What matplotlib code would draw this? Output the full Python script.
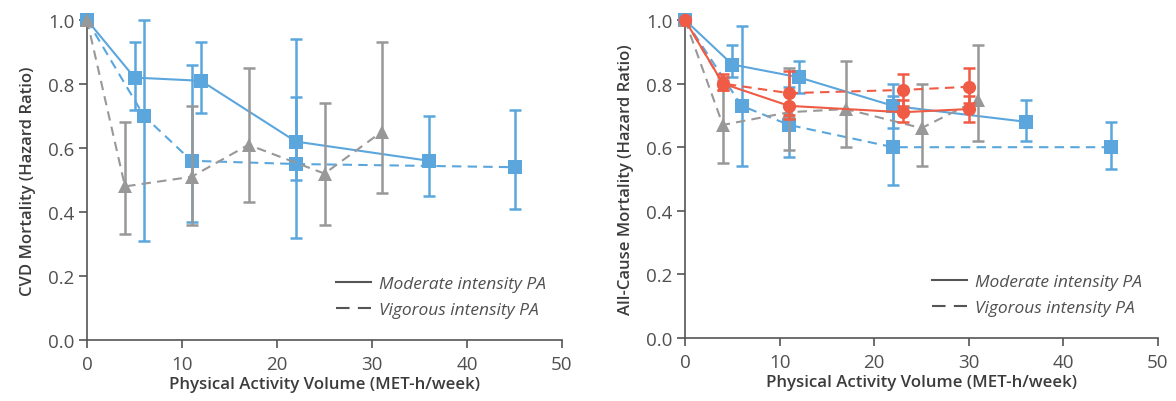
import matplotlib
matplotlib.use("Agg")
import matplotlib.pyplot as plt
from matplotlib.lines import Line2D
import numpy as np

plt.rcParams["font.family"] = ["Open Sans", "DejaVu Sans"]

BLUE = "#5ba6dc"
GRAY = "#989898"
RED = "#ef5b45"
AX = "#555555"
TXT = "#3c3c3c"

# ---- CVD mortality (left) ----
cvd_mod_blue_x = [0, 5, 12, 22, 36]
cvd_mod_blue_y = [1.0, 0.82, 0.81, 0.62, 0.56]
cvd_mod_blue_lo = [np.nan, 0.72, 0.71, 0.50, 0.45]
cvd_mod_blue_hi = [np.nan, 0.93, 0.93, 0.76, 0.70]

cvd_vig_blue_x = [0, 6, 11, 22, 45]
cvd_vig_blue_y = [1.0, 0.70, 0.56, 0.55, 0.54]
cvd_vig_blue_lo = [np.nan, 0.31, 0.37, 0.32, 0.41]
cvd_vig_blue_hi = [np.nan, 1.00, 0.86, 0.94, 0.72]

cvd_vig_gray_x = [0, 4, 11, 17, 25, 31]
cvd_vig_gray_y = [1.0, 0.48, 0.51, 0.61, 0.52, 0.65]
cvd_vig_gray_lo = [np.nan, 0.33, 0.36, 0.43, 0.36, 0.46]
cvd_vig_gray_hi = [np.nan, 0.68, 0.73, 0.85, 0.74, 0.93]

# ---- All-cause mortality (right) ----
ac_mod_blue_x = [0, 5, 12, 22, 36]
ac_mod_blue_y = [1.0, 0.86, 0.82, 0.73, 0.68]
ac_mod_blue_lo = [np.nan, 0.82, 0.77, 0.66, 0.62]
ac_mod_blue_hi = [np.nan, 0.92, 0.87, 0.80, 0.75]

ac_vig_blue_x = [0, 6, 11, 22, 45]
ac_vig_blue_y = [1.0, 0.73, 0.67, 0.60, 0.60]
ac_vig_blue_lo = [np.nan, 0.54, 0.57, 0.48, 0.53]
ac_vig_blue_hi = [np.nan, 0.98, 0.79, 0.76, 0.68]

ac_vig_gray_x = [0, 4, 11, 17, 25, 31]
ac_vig_gray_y = [1.0, 0.67, 0.71, 0.72, 0.66, 0.75]
ac_vig_gray_lo = [np.nan, 0.55, 0.59, 0.60, 0.54, 0.62]
ac_vig_gray_hi = [np.nan, 0.81, 0.85, 0.87, 0.80, 0.92]

ac_mod_red_x = [0, 4, 11, 23, 30]
ac_mod_red_y = [1.0, 0.80, 0.73, 0.71, 0.72]
ac_mod_red_lo = [np.nan, 0.78, 0.69, 0.68, 0.68]
ac_mod_red_hi = [np.nan, 0.82, 0.77, 0.75, 0.76]

ac_vig_red_x = [0, 4, 11, 23, 30]
ac_vig_red_y = [1.0, 0.80, 0.77, 0.78, 0.79]
ac_vig_red_lo = [np.nan, 0.78, 0.70, 0.73, 0.74]
ac_vig_red_hi = [np.nan, 0.83, 0.84, 0.83, 0.85]

xticks = [0, 10, 20, 30, 40, 50]
yticks = [0.0, 0.2, 0.4, 0.6, 0.8, 1.0]


def series(ax, x, y, lo, hi, color, ls, marker, z):
    x = np.array(x, float); y = np.array(y, float)
    lo = np.array(lo, float); hi = np.array(hi, float)
    m = ~np.isnan(lo)
    ax.errorbar(x[m], y[m], yerr=[y[m] - lo[m], hi[m] - y[m]], fmt="none",
                ecolor=color, elinewidth=1.8, capsize=4.5, capthick=1.8, zorder=z)
    dash = (0, (4.5, 3)) if ls == "--" else "-"
    ax.plot(x, y, color=color, ls=dash, lw=1.5, zorder=z + 0.1)
    ax.plot(x, y, ls="none", marker=marker, ms=9.5, color=color,
            markeredgewidth=0, zorder=z + 0.2)


fig = plt.figure(figsize=(11.76, 4.02), dpi=100)
axL = fig.add_axes([87 / 1176, 1 - 341 / 402, 475 / 1176, 320 / 402])
axR = fig.add_axes([685 / 1176, 1 - 339 / 402, 473 / 1176, 318 / 402])

series(axL, cvd_mod_blue_x, cvd_mod_blue_y, cvd_mod_blue_lo, cvd_mod_blue_hi, BLUE, "-", "s", 2)
series(axL, cvd_vig_blue_x, cvd_vig_blue_y, cvd_vig_blue_lo, cvd_vig_blue_hi, BLUE, "--", "s", 2)
series(axL, cvd_vig_gray_x, cvd_vig_gray_y, cvd_vig_gray_lo, cvd_vig_gray_hi, GRAY, "--", "^", 3)

series(axR, ac_mod_blue_x, ac_mod_blue_y, ac_mod_blue_lo, ac_mod_blue_hi, BLUE, "-", "s", 2)
series(axR, ac_vig_blue_x, ac_vig_blue_y, ac_vig_blue_lo, ac_vig_blue_hi, BLUE, "--", "s", 2)
series(axR, ac_vig_gray_x, ac_vig_gray_y, ac_vig_gray_lo, ac_vig_gray_hi, GRAY, "--", "^", 3)
series(axR, ac_mod_red_x, ac_mod_red_y, ac_mod_red_lo, ac_mod_red_hi, RED, "-", "o", 4)
series(axR, ac_vig_red_x, ac_vig_red_y, ac_vig_red_lo, ac_vig_red_hi, RED, "--", "o", 4)

for ax, ylab in [(axL, "CVD Mortality (Hazard Ratio)"),
                 (axR, "All-Cause Mortality (Hazard Ratio)")]:
    ax.set_xlim(0, 50); ax.set_ylim(0, 1.0)
    ax.set_xticks(xticks); ax.set_yticks(yticks)
    ax.set_yticklabels([f"{v:.1f}" for v in yticks])
    for s in ["top", "right"]:
        ax.spines[s].set_visible(False)
    for s in ["left", "bottom"]:
        ax.spines[s].set_color(AX); ax.spines[s].set_linewidth(1.2)
    ax.tick_params(direction="out", length=6, width=1.2, color=AX,
                   labelsize=13.5, labelcolor="#505050", pad=3)
    ax.tick_params(axis="x", pad=5)
    ax.set_xlabel("Physical Activity Volume (MET-h/week)", fontsize=12.2,
                  color=TXT, fontweight="semibold", labelpad=2)
    ax.set_ylabel(ylab, fontsize=12, color=TXT, fontweight="semibold", labelpad=9)
    for c in ax.get_children():
        if hasattr(c, "set_clip_on"):
            c.set_clip_on(False)
    handles = [Line2D([], [], color=AX, lw=1.5, ls="-"),
               Line2D([], [], color=AX, lw=1.5, ls=(0, (6.5, 4)))]
    leg = ax.legend(handles, ["Moderate intensity PA", "Vigorous intensity PA"],
                    loc="lower right", bbox_to_anchor=(1.0, 0.02), frameon=False,
                    prop={"style": "italic", "size": 12.5}, handlelength=2.0,
                    labelspacing=0.55, handletextpad=0.5)
    for t in leg.get_texts():
        t.set_color("#505050")

fig.savefig("out.png", dpi=100)
